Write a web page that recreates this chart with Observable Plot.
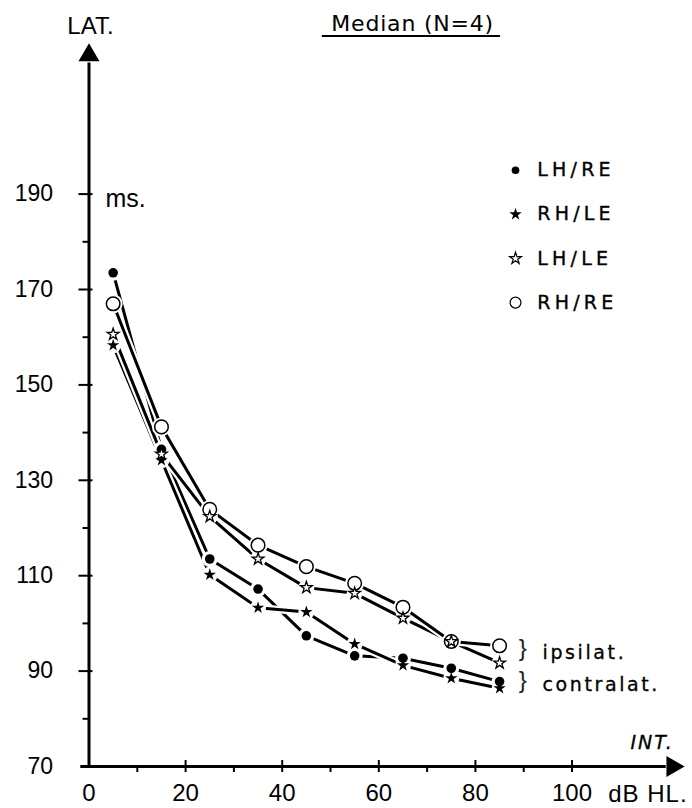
<!DOCTYPE html>
<html>
<head>
<meta charset="utf-8">
<script src="https://cdn.jsdelivr.net/npm/d3@7"></script>
<script src="https://cdn.jsdelivr.net/npm/@observablehq/plot@0.6"></script>
<style>
  body { margin: 0; background: #fff; }
  #chart svg { display: block; }
  .title text { letter-spacing: 0.8px; }
  .legend text { letter-spacing: 4.2px; stroke: black; stroke-width: 0.35px; }
  .side text { letter-spacing: 2.6px; stroke: black; stroke-width: 0.3px; }
  .intlab text { letter-spacing: 2px; stroke: black; stroke-width: 0.3px; }
  .unit text { letter-spacing: 1px; }
</style>
</head>
<body>
<div id="chart"></div>
<script>
// Stimulus intensity (dB HL) and median latency (ms), N = 4
const intensity = [5, 15, 25, 35, 45, 55, 65, 75, 85];
const lhRe = [173.5, 136.5, 113.5, 107.2, 97.4, 93.2, 92.7, 90.6, 87.8];
const rhLe = [158.3, 134.2, 110.2, 103.3, 102.4, 95.7, 91.2, 88.5, 86.4];
const lhLe = [160.6, 135.5, 122.4, 113.5, 107.5, 106.3, 101.1, 96.2, 91.7];
const rhRe = [167.0, 141.2, 123.9, 116.4, 111.9, 108.4, 103.4, 96.2, 95.3];

const seriesNames = ["LH/RE", "RH/LE", "LH/LE", "RH/RE"];
const seriesValues = {"LH/RE": lhRe, "RH/LE": rhLe, "LH/LE": lhLe, "RH/RE": rhRe};

const xTickLabels = [0, 20, 40, 60, 80, 100];
const xMinorTicks = [10, 30, 50, 70, 90];
const yTickLabels = [70, 90, 110, 130, 150, 170, 190];
const yMinorTicks = [80, 100, 120, 140, 160, 180];

const titleText = "Median (N=4)";
const yName = "LAT.";
const yUnit = "ms.";
const xName = "INT.";
const xUnit = "dB HL.";
const groupLabels = ["ipsilat.", "contralat."];

// marker look for each series
const markerStyle = {
  "LH/RE": {symbol: "circle", fill: "black", stroke: "none", r: 4.8, halo: 8},
  "RH/LE": {symbol: "star", fill: "black", stroke: "none", r: 3.9, halo: 8},
  "LH/LE": {symbol: "star", fill: "white", stroke: "black", r: 3.7, halo: 8},
  "RH/RE": {symbol: "circle", fill: "white", stroke: "black", r: 6.8, halo: 9.5}
};

const rows = seriesNames.flatMap(name =>
  intensity.map((x, i) => ({series: name, x, y: seriesValues[name][i]})));
const bySeries = name => rows.filter(d => d.series === name);

const plain = "'Liberation Sans', Arial, sans-serif";
const wide = "'DejaVu Sans', 'Liberation Sans', sans-serif";

const marks = [];

// axis lines with filled arrowheads
marks.push(Plot.ruleX([0], {x: 0, y1: 70, y2: 217.5, strokeWidth: 3}));
marks.push(Plot.ruleY([70], {y: 70, x1: -1.7, x2: 119.5, strokeWidth: 3}));
marks.push(Plot.dot([0], {x: 0, y: 219.1, symbol: "triangle", r: 7.8, fill: "black", stroke: "none"}));
marks.push(Plot.dot([0], {x: 120.8, y: 70, symbol: "triangle", r: 7.8, fill: "black", stroke: "none", rotate: 90}));

// ticks: labelled ones cross the axis line, the others stay outside
marks.push(Plot.axisY({ticks: yMinorTicks, tickSize: 6, strokeWidth: 2, tickFormat: () => "", label: null}));
marks.push(Plot.axisY({ticks: yTickLabels.filter(v => v > 70), tickSize: 14, dx: 4, strokeWidth: 2, tickFormat: () => "", label: null}));
marks.push(Plot.axisY({ticks: yTickLabels, tickSize: 0, tickPadding: 36, fontSize: 23, fontFamily: plain, label: null}));
marks.push(Plot.axisX({ticks: xMinorTicks, tickSize: 6, strokeWidth: 2, tickFormat: () => "", label: null}));
marks.push(Plot.axisX({ticks: xTickLabels.filter(v => v > 0), tickSize: 12, dy: -6, strokeWidth: 2, tickFormat: () => "", label: null}));
marks.push(Plot.axisX({ticks: xTickLabels, tickSize: 0, tickPadding: 17, fontSize: 24, fontFamily: plain, label: null}));

// series lines, each with a white casing so crossings stay readable
for (const name of seriesNames) {
  marks.push(Plot.line(bySeries(name), {x: "x", y: "y", stroke: "white", strokeWidth: 7.5}));
  marks.push(Plot.line(bySeries(name), {x: "x", y: "y", stroke: "black", strokeWidth: 3}));
}
// white halos leave a small gap between lines and markers
for (const name of seriesNames) {
  const s = markerStyle[name];
  marks.push(Plot.dot(bySeries(name), {x: "x", y: "y", r: s.halo, fill: "white", stroke: "none"}));
}
for (const name of ["LH/RE", "RH/LE", "RH/RE", "LH/LE"]) {
  const s = markerStyle[name];
  marks.push(Plot.dot(bySeries(name), {x: "x", y: "y", symbol: s.symbol, r: s.r, fill: s.fill,
    stroke: s.stroke, strokeWidth: s.symbol === "star" ? 1.3 : 1.5}));
}

// legend
const legendRows = seriesNames.map((name, i) => ({name, y: 195 - i * 9.25}));
for (const d of legendRows) {
  const s = markerStyle[d.name];
  marks.push(Plot.dot([d], {x: 88.3, y: "y", symbol: s.symbol, r: s.symbol === "circle" ? s.r * 0.8 : s.r,
    fill: s.fill, stroke: s.stroke, strokeWidth: 1.2}));
}
marks.push(Plot.text(legendRows, {x: 92.8, y: "y", text: "name", textAnchor: "start", fontSize: 19,
  fontFamily: wide, className: "legend"}));

// title with underline
marks.push(Plot.text([titleText], {x: 67, y: 220, dy: -20.5, text: d => d, lineAnchor: "bottom",
  fontSize: 22, fontFamily: wide, className: "title"}));
marks.push(Plot.ruleY([220], {y: 220, x1: 48.3, x2: 85.2, dy: -15, strokeWidth: 2}));

// axis names and units
marks.push(Plot.text([yName], {x: 0.3, y: 220, dy: -17.5, text: d => d, lineAnchor: "bottom",
  fontSize: 24, fontFamily: plain}));
marks.push(Plot.text([yUnit], {x: 3.4, y: 190, dy: 13, text: d => d, lineAnchor: "bottom",
  textAnchor: "start", fontSize: 25, fontFamily: plain}));
marks.push(Plot.text([xName], {x: 112.1, y: 70, dy: -18, text: d => d, lineAnchor: "bottom",
  textAnchor: "start", fontSize: 19, fontStyle: "italic", fontFamily: wide, className: "intlab"}));
marks.push(Plot.text([xUnit], {x: 107.5, y: 70, dy: 35, text: d => d, lineAnchor: "bottom",
  textAnchor: "start", fontSize: 24, fontFamily: plain, className: "unit"}));

// ipsilateral / contralateral grouping
const groups = groupLabels.map((label, i) => ({label, y: [92.6, 85.9][i]}));
marks.push(Plot.text(groups, {x: 89.8, y: "y", dy: -3, text: () => "}", lineAnchor: "bottom",
  fontSize: 24, fontFamily: plain, fill: "#222"}));
marks.push(Plot.text(groups, {x: 93.9, y: "y", text: "label", lineAnchor: "bottom",
  textAnchor: "start", fontSize: 19, fontFamily: wide, className: "side"}));

const chart = Plot.plot({
  width: 692,
  height: 808,
  marginLeft: 88.5,
  marginRight: 14.2,
  marginTop: 50.5,
  marginBottom: 42,
  x: {domain: [0, 122], label: null},
  y: {domain: [70, 220], label: null},
  style: {background: "white", color: "black", fontFamily: plain},
  marks
});
document.getElementById("chart").append(chart);
</script>
</body>
</html>
